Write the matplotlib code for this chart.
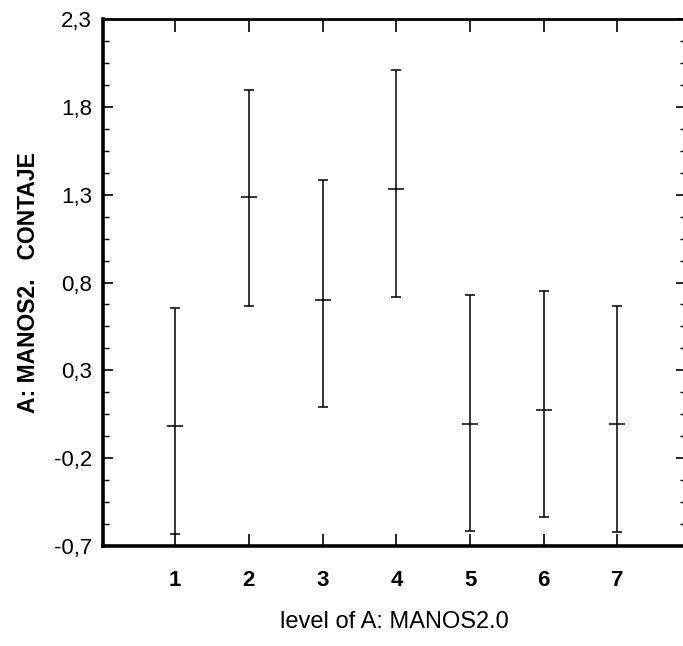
import numpy as np
import matplotlib.pyplot as plt
from matplotlib.ticker import MultipleLocator

plt.rcParams['font.family'] = ['Liberation Sans', 'DejaVu Sans']

# data
levels = [1, 2, 3, 4, 5, 6, 7]
means = [-0.015, 1.287, 0.700, 1.334, -0.003, 0.075, -0.005]
upper = [0.655, 1.898, 1.385, 2.010, 0.729, 0.754, 0.667]
lower = [-0.630, 0.665, 0.092, 0.716, -0.616, -0.533, -0.622]

yticks = [-0.7, -0.2, 0.3, 0.8, 1.3, 1.8, 2.3]
ytick_labels = ['-0,7', '-0,2', '0,3', '0,8', '1,3', '1,8', '2,3']

means = np.array(means)
yerr = np.vstack([means - np.array(lower), np.array(upper) - means])

fig = plt.figure(figsize=(6.83, 6.46), dpi=100)
ax = fig.add_axes([103 / 683, 1 - 546 / 646, (686 - 103) / 683, (546 - 19) / 646])

ax.errorbar(levels, means, yerr=yerr, fmt='_', color='black', ecolor='black',
            elinewidth=1.1, capsize=3.8, capthick=1.1,
            markersize=12, markeredgewidth=1.1)

ax.set_xlim(0.02, 7.93)
ax.set_ylim(-0.7, 2.3)

ax.set_xticks(levels)
ax.set_xticklabels([str(v) for v in levels], fontsize=16, fontweight='bold')
ax.set_yticks(yticks)
ax.set_yticklabels(ytick_labels, fontsize=16)
ax.yaxis.set_minor_locator(MultipleLocator(0.125, offset=0.05))

ax.tick_params(axis='x', which='major', direction='in', length=9, width=1.2,
               top=True, pad=17.5)
ax.tick_params(axis='y', which='major', direction='in', length=7, width=1.2,
               right=True, pad=8)
ax.tick_params(axis='y', which='minor', direction='in', length=4.5, width=1.0,
               right=True)

for side in ['left', 'bottom']:
    ax.spines[side].set_linewidth(2.6)
for side in ['top', 'right']:
    ax.spines[side].set_linewidth(2.0)

ax.set_xlabel('level of A: MANOS2.0', fontsize=17, labelpad=14)
ax.set_ylabel('A: MANOS2.   CONTAJE', fontsize=16.5, fontweight='bold', labelpad=10)

fig.savefig('out.png', dpi=100)
